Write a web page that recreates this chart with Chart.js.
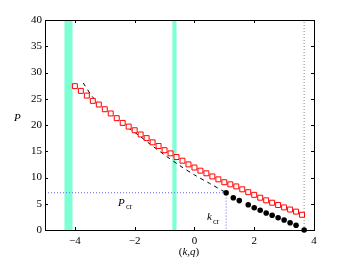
<!DOCTYPE html>
<html>
<head>
<meta charset="utf-8">
<script src="https://cdn.jsdelivr.net/npm/chart.js@4.4.1/dist/chart.umd.min.js"></script>
<style>
  html, body { margin: 0; padding: 0; background: #fff; }
  canvas { display: block; }
</style>
</head>
<body>
<canvas id="chart" width="346" height="260"></canvas>
<script>
// red squares: P over (k,q)
const square_k = [-4.0, -3.8, -3.6, -3.4, -3.2, -3.0, -2.8, -2.6, -2.4, -2.2, -2.0, -1.8, -1.6,
    -1.4, -1.2, -1.0, -0.8, -0.6, -0.4, -0.2, 0.0, 0.2, 0.4, 0.6, 0.8, 1.0, 1.2,
    1.4, 1.6, 1.8, 2.0, 2.2, 2.4, 2.6, 2.8, 3.0, 3.2, 3.4, 3.6];
const square_p = [27.4, 26.5, 25.6, 24.6, 23.9, 23.0, 22.2, 21.3, 20.4, 19.7, 19.0, 18.2, 17.5,
    16.7, 16.0, 15.2, 14.6, 13.9, 13.2, 12.5, 11.9, 11.3, 10.8, 10.2, 9.65, 9.1, 8.7,
    8.3, 7.75, 7.2, 6.7, 6.15, 5.65, 5.2, 4.76, 4.3, 3.9, 3.5, 2.9];

// black dots below k_cr
const dot_k = [1.06, 1.3, 1.5, 1.8, 2.0, 2.2, 2.4, 2.6, 2.8, 3.0, 3.2, 3.4, 3.67];
const dot_p = [7.1, 6.15, 5.6, 4.82, 4.25, 3.75, 3.24, 2.8, 2.34, 1.9, 1.39, 0.9, 0.0];

// dashed curve
const dash_k = [-3.72, -3.4, -3.0, -2.4, -2.0, -1.4, -1.0, -0.5, 0.0, 0.5, 1.06];
const dash_p = [28.0, 25.3, 23.1, 20.2, 18.6, 16.0, 14.3, 12.3, 10.5, 8.9, 7.1];

const k_cr = 1.06;
const p_cr = 7.1;
const k_end = 3.67;

// cyan bands [from, to]
const bands = [[-4.35, -4.08], [-0.74, -0.6]];

const x_ticks = [-4, -2, 0, 2, 4];
const y_ticks = [0, 5, 10, 15, 20, 25, 30, 35, 40];

const serif = '"Liberation Serif", "DejaVu Serif", serif';

function pairs(xs, ys) {
    return xs.map((x, i) => ({ x: x, y: ys[i] }));
}

const bands_plugin = {
    id: 'bands',
    beforeDatasetsDraw(chart) {
        const ctx = chart.ctx;
        const xs = chart.scales.x;
        const area = chart.chartArea;
        ctx.save();
        ctx.fillStyle = 'rgb(127,255,212)';
        bands.forEach(b => {
            const x1 = xs.getPixelForValue(b[0]);
            const x2 = xs.getPixelForValue(b[1]);
            ctx.fillRect(x1, area.top, x2 - x1, area.bottom - area.top);
        });
        ctx.restore();
    }
};

const frame_plugin = {
    id: 'frame',
    afterDraw(chart) {
        const ctx = chart.ctx;
        const xs = chart.scales.x;
        const ys = chart.scales.y;
        const a = chart.chartArea;
        ctx.save();
        ctx.strokeStyle = '#000';
        ctx.lineWidth = 1;
        ctx.beginPath();
        x_ticks.forEach(v => {
            const px = Math.round(xs.getPixelForValue(v)) + 0.5;
            ctx.moveTo(px, a.bottom); ctx.lineTo(px, a.bottom - 3);
            ctx.moveTo(px, a.top); ctx.lineTo(px, a.top + 3);
        });
        y_ticks.forEach(v => {
            const py = Math.round(ys.getPixelForValue(v)) + 0.5;
            ctx.moveTo(a.left, py); ctx.lineTo(a.left + 3, py);
            ctx.moveTo(a.right, py); ctx.lineTo(a.right - 3, py);
        });
        ctx.stroke();
        ctx.strokeRect(Math.round(a.left) + 0.5, Math.round(a.top) + 0.5,
            Math.round(a.right - a.left), Math.round(a.bottom - a.top));

        // labels
        ctx.fillStyle = '#000';
        ctx.textBaseline = 'alphabetic';
        ctx.font = 'italic 11px ' + serif;
        ctx.fillText('P', 14, 121);

        // (k,q)
        const parts = [['(', false], ['k', true], [',', false], ['q', true], [')', false]];
        let total = 0;
        parts.forEach(p => {
            ctx.font = (p[1] ? 'italic ' : '') + '11px ' + serif;
            total += ctx.measureText(p[0]).width;
        });
        let x = 189 - total / 2;
        parts.forEach(p => {
            ctx.font = (p[1] ? 'italic ' : '') + '11px ' + serif;
            ctx.fillText(p[0], x, 255);
            x += ctx.measureText(p[0]).width;
        });

        // P_cr and k_cr
        ctx.font = 'italic 11px ' + serif;
        ctx.fillText('P', 118, 206);
        ctx.fillText('k', 207, 220);
        ctx.font = '8px ' + serif;
        ctx.fillText('cr', 126, 209);
        ctx.fillText('cr', 213, 224);
        ctx.restore();
    }
};

new Chart(document.getElementById('chart'), {
    type: 'scatter',
    data: {
        datasets: [
            {
                type: 'line',
                data: [{ x: k_end, y: 0 }, { x: k_end, y: 40 }],
                borderColor: '#888',
                borderWidth: 1,
                borderDash: [1, 2],
                pointRadius: 0,
                order: 6
            },
            {
                type: 'line',
                data: [{ x: -5, y: p_cr }, { x: k_cr, y: p_cr }, { x: k_cr, y: 0 }],
                borderColor: 'rgb(100,100,240)',
                borderWidth: 1,
                borderDash: [1, 2],
                pointRadius: 0,
                order: 5
            },
            {
                type: 'line',
                data: pairs(dash_k, dash_p),
                borderColor: '#000',
                borderWidth: 1,
                borderDash: [4, 4],
                pointRadius: 0,
                tension: 0.3,
                order: 4
            },
            {
                data: pairs(square_k, square_p),
                pointStyle: 'rect',
                pointRadius: 3.5,
                borderColor: 'rgb(255,0,0)',
                backgroundColor: '#fff',
                borderWidth: 1,
                order: 2
            },
            {
                data: pairs(dot_k, dot_p),
                pointStyle: 'circle',
                pointRadius: 2.8,
                borderColor: '#000',
                backgroundColor: '#000',
                borderWidth: 0,
                clip: false,
                order: 1
            }
        ]
    },
    options: {
        responsive: false,
        animation: false,
        layout: { padding: { top: 20, right: 32, left: 0, bottom: 0 } },
        plugins: {
            legend: { display: false },
            tooltip: { enabled: false }
        },
        scales: {
            x: {
                type: 'linear',
                min: -5,
                max: 4,
                afterBuildTicks: axis => { axis.ticks = x_ticks.map(v => ({ value: v })); },
                afterFit: axis => { axis.height = 30; },
                grid: { display: false, drawTicks: false },
                border: { display: false },
                ticks: {
                    padding: 5,
                    color: '#000',
                    font: { family: serif, size: 11 },
                    callback: v => String(v).replace('-', '\u2212')
                }
            },
            y: {
                type: 'linear',
                min: 0,
                max: 40,
                afterBuildTicks: axis => { axis.ticks = y_ticks.map(v => ({ value: v })); },
                afterFit: axis => { axis.width = 45; },
                grid: { display: false, drawTicks: false },
                border: { display: false },
                ticks: {
                    padding: 3,
                    color: '#000',
                    font: { family: serif, size: 11 },
                    callback: v => String(v)
                }
            }
        }
    },
    plugins: [bands_plugin, frame_plugin]
});
</script>
</body>
</html>
